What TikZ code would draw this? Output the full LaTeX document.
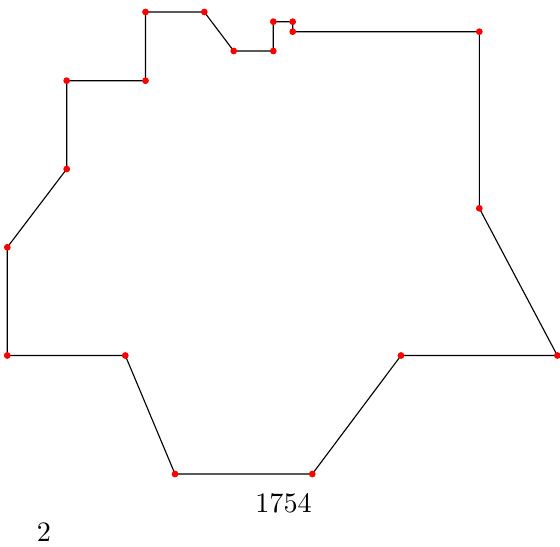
\documentclass[tikz,border=0pt]{standalone}
\begin{document}
\begin{tikzpicture}[x=0.355pt,y=-0.355pt,
  edge/.style={draw=black,line width=0.4pt},
  vdot/.style={circle,fill=red,inner sep=0pt,minimum size=2.4pt}]
\useasboundingbox (0,0) rectangle (560,546);
\coordinate (p1) at (145.5,12);
\coordinate (p2) at (204.3,12);
\coordinate (p3) at (233.7,51);
\coordinate (p4) at (273.3,51);
\coordinate (p5) at (273.3,21.7);
\coordinate (p6) at (292.7,21.7);
\coordinate (p7) at (292.7,31.7);
\coordinate (p8) at (479.3,31.7);
\coordinate (p9) at (479.3,208.3);
\coordinate (p10) at (557.3,355.5);
\coordinate (p11) at (401,355.5);
\coordinate (p12) at (312.3,474);
\coordinate (p13) at (175,474);
\coordinate (p14) at (125.3,355.5);
\coordinate (p15) at (7.3,355.5);
\coordinate (p16) at (7.3,247.3);
\coordinate (p17) at (66.7,169);
\coordinate (p18) at (66.7,80.7);
\coordinate (p19) at (145.5,80.7);
\draw[edge] (p1) -- (p2) -- (p3) -- (p4) -- (p5) -- (p6) -- (p7) -- (p8) -- (p9) -- (p10) -- (p11) -- (p12) -- (p13) -- (p14) -- (p15) -- (p16) -- (p17) -- (p18) -- (p19) -- cycle;
\foreach \i in {1,...,19} \node[vdot] (d\i) at (p\i) {};
\node (lbl) at (283.5,503.5) {1754};
\node (num) at (44,532) {2};
\end{tikzpicture}
\end{document}
